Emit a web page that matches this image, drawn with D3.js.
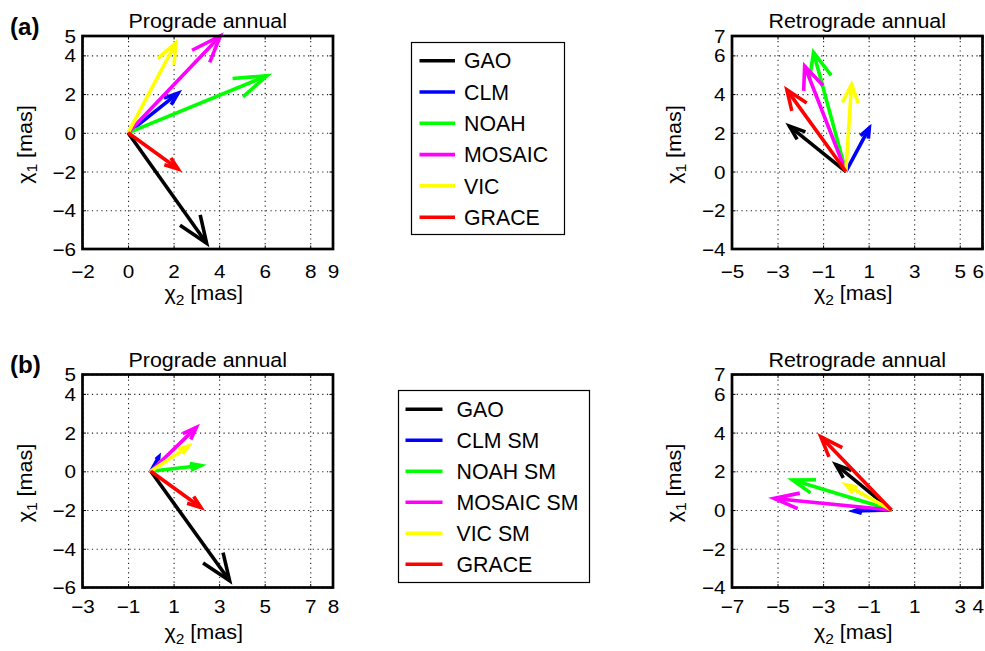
<!DOCTYPE html>
<html>
<head>
<meta charset="utf-8">
<script src="https://cdn.jsdelivr.net/npm/d3@7"></script>
<style>
  html, body { margin: 0; padding: 0; background: #fff; }
  svg { display: block; font-family: "Liberation Sans", Arial, Helvetica, sans-serif; }
</style>
</head>
<body>
<svg id="chart" width="985" height="651"></svg>
<script>
// ---------------- DATA ----------------
const seriesA = ["GAO", "CLM", "NOAH", "MOSAIC", "VIC", "GRACE"];
const seriesB = ["GAO", "CLM SM", "NOAH SM", "MOSAIC SM", "VIC SM", "GRACE"];

// vectors: chi2 (horizontal) and chi1 (vertical), in mas
const progradeA_chi2   = [3.45, 2.2, 6.1, 4.05, 2.1, 2.2];
const progradeA_chi1   = [-5.7, 2.05, 2.95, 5.0, 4.65, -1.87];
const retrogradeA_chi2 = [-2.48, 1.03, -1.42, -1.81, 0.25, -2.59];
const retrogradeA_chi1 = [2.35, 2.25, 6.15, 5.45, 4.5, 4.22];
const progradeB_chi2   = [3.46, 0.35, 2.2, 2.0, 1.65, 2.2];
const progradeB_chi1   = [-5.65, 0.75, 0.3, 2.27, 1.3, -1.87];
const retrogradeB_chi2 = [-2.44, -1.65, -4.34, -5.15, -2.0, -3.1];
const retrogradeB_chi1 = [2.35, -0.05, 1.55, 0.6, 1.3, 3.78];

// tick labels
const progA_xTicks  = [-2, 0, 2, 4, 6, 8, 9];
const progA_yTicks  = [-6, -4, -2, 0, 2, 4, 5];
const retroA_xTicks = [-5, -3, -1, 1, 3, 5, 6];
const retroA_yTicks = [-4, -2, 0, 2, 4, 6, 7];
const progB_xTicks  = [-3, -1, 1, 3, 5, 7, 8];
const progB_yTicks  = [-6, -4, -2, 0, 2, 4, 5];
const retroB_xTicks = [-7, -5, -3, -1, 1, 3, 4];
const retroB_yTicks = [-4, -2, 0, 2, 4, 6, 7];

// ---------------- STYLE ----------------
const colors = ["#000000", "#0000ff", "#00ff00", "#ff00ff", "#ffff00", "#ff0000"];
const LW = 3.6;
const FONT_TICK = 18, SX_TICK = 1.15;
const FONT_TITLE = 19.5, SX_TITLE = 1.1;
const FONT_LABEL = 20, SX_LABEL = 1.08;
const FONT_LEG = 21.3;
const PW = 250.5, PH = 213;
const minus = s => String(s).replace("-", "\u2212");

const svg = d3.select("#chart");

function stretchedText(g, x, y, str, size, sx, anchor, weight) {
  return g.append("text")
    .attr("transform", `translate(${x},${y}) scale(${sx},1)`)
    .attr("text-anchor", anchor || "middle")
    .attr("font-size", size)
    .attr("font-weight", weight || "normal")
    .attr("fill", "#000")
    .text(str);
}

function chiLabel(g, transform, sub) {
  const t = g.append("text")
    .attr("transform", transform)
    .attr("text-anchor", "middle")
    .attr("font-size", FONT_LABEL)
    .attr("fill", "#000");
  t.append("tspan").text("\u03c7");
  t.append("tspan").attr("font-size", FONT_LABEL * 0.72).attr("dy", 5).text(sub);
  t.append("tspan").attr("dy", -5).text(" [mas]");
}

function panel(opt) {
  const g = svg.append("g").attr("transform", `translate(${opt.left},${opt.top})`);
  const x = d3.scaleLinear().domain(d3.extent(opt.xTicks)).range([0, PW]);
  const y = d3.scaleLinear().domain(d3.extent(opt.yTicks)).range([PH, 0]);

  // grid
  const gx = g.append("g").attr("transform", `translate(0,${PH})`)
    .call(d3.axisBottom(x).tickValues(opt.xTicks).tickSize(-PH).tickFormat(""));
  const gy = g.append("g")
    .call(d3.axisLeft(y).tickValues(opt.yTicks).tickSize(-PW).tickFormat(""));
  [gx, gy].forEach(a => {
    a.select(".domain").remove();
    a.selectAll("line").attr("stroke", "#222").attr("stroke-width", 1.1)
      .attr("stroke-dasharray", "1.2,3.5");
  });

  // inward ticks on all four sides
  const tl = g.append("g").call(d3.axisLeft(y).tickValues(opt.yTicks).tickSize(-3.5).tickFormat(""));
  const tr = g.append("g").attr("transform", `translate(${PW},0)`)
    .call(d3.axisRight(y).tickValues(opt.yTicks).tickSize(-3.5).tickFormat(""));
  const tb = g.append("g").attr("transform", `translate(0,${PH})`)
    .call(d3.axisBottom(x).tickValues(opt.xTicks).tickSize(-3.5).tickFormat(""));
  const tt = g.append("g")
    .call(d3.axisTop(x).tickValues(opt.xTicks).tickSize(-3.5).tickFormat(""));
  [tl, tr, tb, tt].forEach(a => {
    a.select(".domain").remove();
    a.selectAll("line").attr("stroke", "#000").attr("stroke-width", 1);
  });

  // tick labels through axes
  const ly = g.append("g")
    .call(d3.axisLeft(y).tickValues(opt.yTicks).tickSize(0).tickFormat(minus));
  ly.select(".domain").remove();
  ly.selectAll("text")
    .attr("x", 0).attr("dy", "0.36em")
    .attr("transform", `translate(-6.5,0) scale(${SX_TICK},1)`)
    .attr("font-size", FONT_TICK).attr("fill", "#000")
    .attr("font-family", "Liberation Sans, Arial, sans-serif");

  const lx = g.append("g").attr("transform", `translate(0,${PH})`)
    .call(d3.axisBottom(x).tickValues(opt.xTicks).tickSize(0).tickFormat(minus));
  lx.select(".domain").remove();
  const nx = opt.xTicks.length;
  lx.selectAll("text")
    .attr("y", 0).attr("dy", 0)
    .attr("transform", `translate(0,${opt.xTickDy}) scale(${SX_TICK},1)`)
    .attr("font-size", FONT_TICK).attr("fill", "#000")
    .attr("font-family", "Liberation Sans, Arial, sans-serif")
    .each(function(d, i) {
      if (opt.clampRight && i === nx - 1) {
        d3.select(this).attr("text-anchor", "end")
          .attr("transform", `translate(1,${opt.xTickDy}) scale(${SX_TICK},1)`);
      }
    });

  // vectors (quiver-style open arrowheads computed in data units)
  const alpha = 0.21, beta = 0.37;
  const line = d3.line().x(d => x(d[0])).y(d => y(d[1]));
  opt.u.forEach((u, i) => {
    const v = opt.v[i];
    const shaft = [[0, 0], [u, v]];
    const head = [
      [u - alpha * (u + beta * v), v - alpha * (v - beta * u)],
      [u, v],
      [u - alpha * (u - beta * v), v - alpha * (v + beta * u)]
    ];
    [shaft, head].forEach(pts => {
      g.append("path").attr("d", line(pts))
        .attr("fill", "none").attr("stroke", colors[i])
        .attr("stroke-width", LW)
        .attr("stroke-linejoin", "miter").attr("stroke-linecap", "butt");
    });
  });

  // box
  g.append("rect").attr("x", 0).attr("y", 0).attr("width", PW).attr("height", PH)
    .attr("fill", "none").attr("stroke", "#000").attr("stroke-width", 2.7);

  // title and labels
  stretchedText(g, PW / 2, -8, opt.title, FONT_TITLE, SX_TITLE, "middle");
  chiLabel(g, `translate(${PW / 2 - 4},${PH + opt.xLabelDy}) scale(${SX_LABEL},1)`, "2");
  chiLabel(g, `translate(-51,${PH / 2 + 2}) rotate(-90) scale(${SX_LABEL},1)`, "1");
}

function legend(names, box, lineX0, lineX1, textX, rowY0, rowStep) {
  const g = svg.append("g");
  g.append("rect").attr("x", box[0]).attr("y", box[1]).attr("width", box[2]).attr("height", box[3])
    .attr("fill", "#fff").attr("stroke", "#000").attr("stroke-width", 1.2);
  names.forEach((n, i) => {
    const yy = rowY0 + i * rowStep;
    g.append("line").attr("x1", lineX0).attr("x2", lineX1).attr("y1", yy).attr("y2", yy)
      .attr("stroke", colors[i]).attr("stroke-width", LW);
    g.append("text").attr("x", textX).attr("y", yy).attr("dy", "0.36em")
      .attr("font-size", FONT_LEG).attr("fill", "#000").text(n);
  });
}

panel({left: 82.5, top: 36, xTicks: progA_xTicks, yTicks: progA_yTicks,
  u: progradeA_chi2, v: progradeA_chi1, title: "Prograde annual", xTickDy: 28.5, xLabelDy: 51});
panel({left: 732, top: 36, xTicks: retroA_xTicks, yTicks: retroA_yTicks, clampRight: true,
  u: retrogradeA_chi2, v: retrogradeA_chi1, title: "Retrograde annual", xTickDy: 28.5, xLabelDy: 51});
panel({left: 82.5, top: 374.5, xTicks: progB_xTicks, yTicks: progB_yTicks,
  u: progradeB_chi2, v: progradeB_chi1, title: "Prograde annual", xTickDy: 25.5, xLabelDy: 51});
panel({left: 732, top: 374.5, xTicks: retroB_xTicks, yTicks: retroB_yTicks, clampRight: true,
  u: retrogradeB_chi2, v: retrogradeB_chi1, title: "Retrograde annual", xTickDy: 25.5, xLabelDy: 51});

legend(seriesA, [411.5, 42.5, 153, 192], 419.5, 455, 464, 60.7, 31.3);
legend(seriesB, [398.5, 390.5, 191, 192], 405.5, 442.5, 456.5, 409.3, 31.0);

stretchedText(svg, 10, 35, "(a)", 23, 1.05, "start", "bold");
stretchedText(svg, 10, 373, "(b)", 23, 1.05, "start", "bold");
</script>
</body>
</html>
